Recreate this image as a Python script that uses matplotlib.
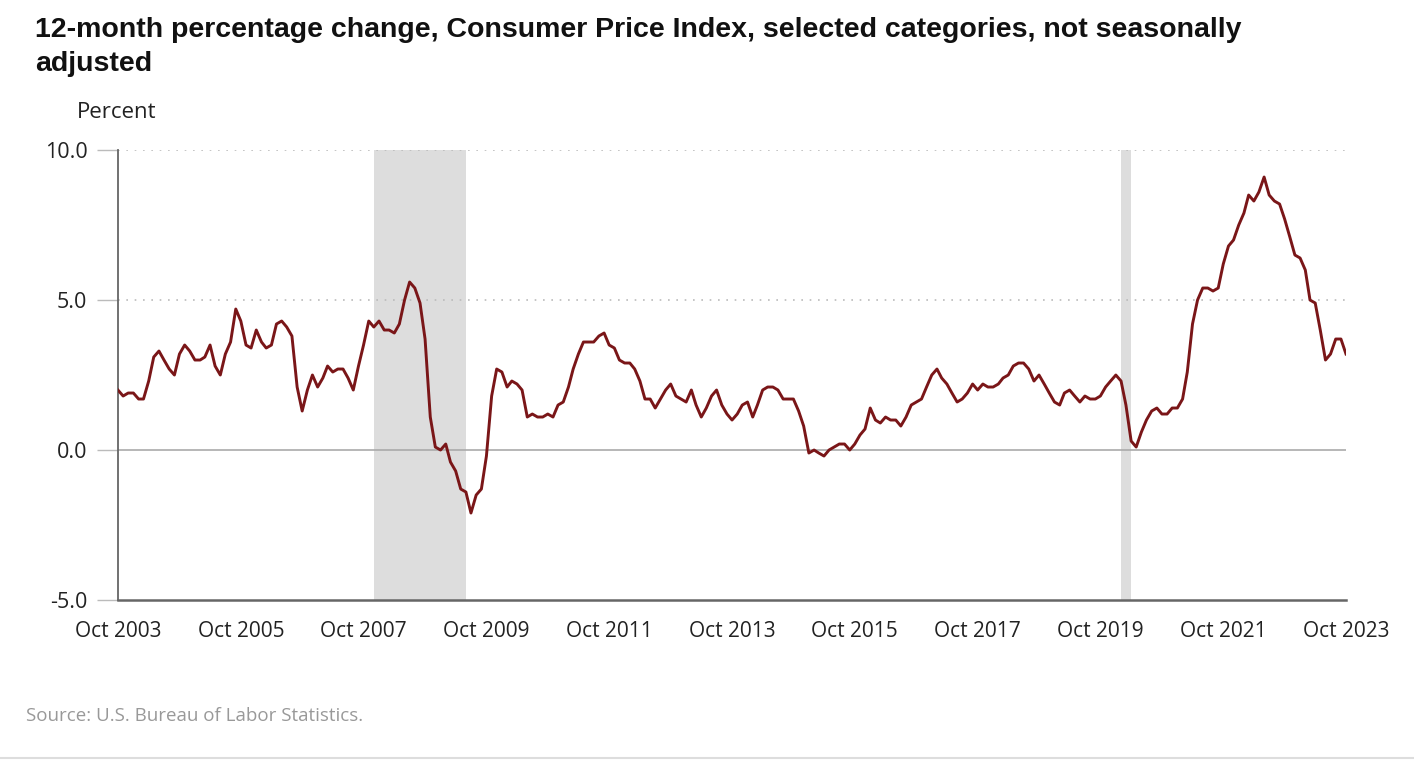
import numpy as np
import pandas as pd
import matplotlib.pyplot as plt
import matplotlib.dates as mdates

# 12-month percent change, monthly, Oct 2003 - Oct 2023
cpi_change = [
    2.0, 1.8, 1.9,
    1.9, 1.7, 1.7, 2.3, 3.1, 3.3, 3.0, 2.7, 2.5, 3.2, 3.5, 3.3,
    3.0, 3.0, 3.1, 3.5, 2.8, 2.5, 3.2, 3.6, 4.7, 4.3, 3.5, 3.4,
    4.0, 3.6, 3.4, 3.5, 4.2, 4.3, 4.1, 3.8, 2.1, 1.3, 2.0, 2.5,
    2.1, 2.4, 2.8, 2.6, 2.7, 2.7, 2.4, 2.0, 2.8, 3.5, 4.3, 4.1,
    4.3, 4.0, 4.0, 3.9, 4.2, 5.0, 5.6, 5.4, 4.9, 3.7, 1.1, 0.1,
    0.0, 0.2, -0.4, -0.7, -1.3, -1.4, -2.1, -1.5, -1.3, -0.2, 1.8, 2.7,
    2.6, 2.1, 2.3, 2.2, 2.0, 1.1, 1.2, 1.1, 1.1, 1.2, 1.1, 1.5,
    1.6, 2.1, 2.7, 3.2, 3.6, 3.6, 3.6, 3.8, 3.9, 3.5, 3.4, 3.0,
    2.9, 2.9, 2.7, 2.3, 1.7, 1.7, 1.4, 1.7, 2.0, 2.2, 1.8, 1.7,
    1.6, 2.0, 1.5, 1.1, 1.4, 1.8, 2.0, 1.5, 1.2, 1.0, 1.2, 1.5,
    1.6, 1.1, 1.5, 2.0, 2.1, 2.1, 2.0, 1.7, 1.7, 1.7, 1.3, 0.8,
    -0.1, 0.0, -0.1, -0.2, 0.0, 0.1, 0.2, 0.2, 0.0, 0.2, 0.5, 0.7,
    1.4, 1.0, 0.9, 1.1, 1.0, 1.0, 0.8, 1.1, 1.5, 1.6, 1.7, 2.1,
    2.5, 2.7, 2.4, 2.2, 1.9, 1.6, 1.7, 1.9, 2.2, 2.0, 2.2, 2.1,
    2.1, 2.2, 2.4, 2.5, 2.8, 2.9, 2.9, 2.7, 2.3, 2.5, 2.2, 1.9,
    1.6, 1.5, 1.9, 2.0, 1.8, 1.6, 1.8, 1.7, 1.7, 1.8, 2.1, 2.3,
    2.5, 2.3, 1.5, 0.3, 0.1, 0.6, 1.0, 1.3, 1.4, 1.2, 1.2, 1.4,
    1.4, 1.7, 2.6, 4.2, 5.0, 5.4, 5.4, 5.3, 5.4, 6.2, 6.8, 7.0,
    7.5, 7.9, 8.5, 8.3, 8.6, 9.1, 8.5, 8.3, 8.2, 7.7, 7.1, 6.5,
    6.4, 6.0, 5.0, 4.9, 4.0, 3.0, 3.2, 3.7, 3.7, 3.2,
]
months = pd.date_range('2003-10-01', periods=len(cpi_change), freq='MS')

# recession periods (shaded)
recessions = [('2007-12-01', '2009-06-01'), ('2020-02-01', '2020-04-01')]

tick_dates = pd.date_range('2003-10-01', '2023-10-01', freq='24MS')
y_ticks = [-5.0, 0.0, 5.0, 10.0]

fig = plt.figure(figsize=(14.14, 7.6), dpi=100)
ax = fig.add_axes([0.0834, 0.2105, 0.8685, 0.5921])

for start, end in recessions:
    ax.axvspan(pd.Timestamp(start), pd.Timestamp(end), color='#dddddd', lw=0, zorder=0)

# grid lines
ax.axhline(5, color='#bbbbbb', lw=1.2, ls=(0, (1, 4)), zorder=1)
ax.axhline(10, color='#bbbbbb', lw=1.2, ls=(0, (1, 4)), zorder=1)
ax.axhline(0, color='#aaaaaa', lw=1.2, zorder=1)

ax.plot(months, cpi_change, color='#7a1618', lw=2.1, zorder=3)

ax.set_xlim(months[0], months[-1])
ax.set_ylim(-5, 10)
ax.set_yticks(y_ticks)
ax.set_yticklabels([f'{v:.1f}' for v in y_ticks])
ax.set_xticks(tick_dates)
ax.xaxis.set_major_formatter(mdates.DateFormatter('%b %Y'))

for side in ['top', 'right']:
    ax.spines[side].set_visible(False)
ax.spines['left'].set_color('#666666')
ax.spines['bottom'].set_color('#666666')
ax.spines['left'].set_linewidth(1.3)
ax.spines['bottom'].set_linewidth(1.8)

ax.tick_params(axis='y', length=15, width=1, color='#bbbbbb', pad=7,
               labelsize=15.5, labelcolor='#222222')
ax.tick_params(axis='x', length=0, pad=15, labelsize=15, labelcolor='#222222')
for lbl in ax.get_xticklabels() + ax.get_yticklabels():
    lbl.set_fontfamily('Open Sans')

fig.text(35 / 1414, 1 - 47 / 760,
         '12-month percentage change, Consumer Price Index, selected categories, not seasonally\nadjusted',
         fontsize=20.5, fontweight='bold', family='Liberation Sans', color='#111111',
         va='center', ha='left', linespacing=1.42)
fig.text(77 / 1414, 1 - 112 / 760, 'Percent', fontsize=16, family='Open Sans',
         color='#222222', va='center', ha='left')
fig.text(26 / 1414, 1 - 716 / 760, 'Source: U.S. Bureau of Labor Statistics.', fontsize=13.5,
         family='Open Sans', color='#999999', va='center', ha='left')
fig.add_artist(plt.Line2D([0, 1], [1 - 758 / 760] * 2, color='#dddddd', lw=1.5))

fig.savefig('out.png', dpi=100)
